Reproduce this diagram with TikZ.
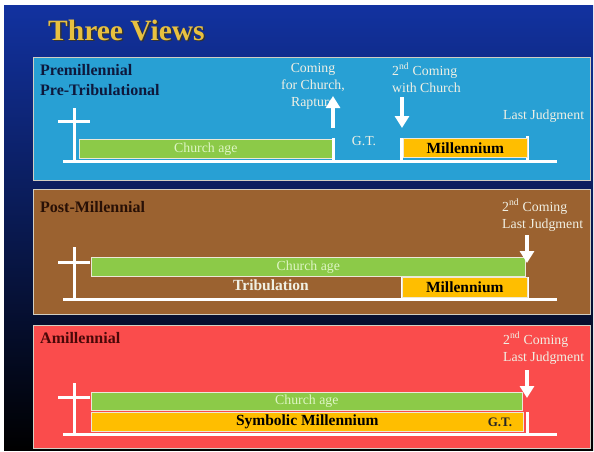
\documentclass[tikz,border=0pt]{standalone}
\usepackage{fontspec}
\setmainfont{Liberation Serif}
\usetikzlibrary{arrows.meta}
\definecolor{bgtop}{RGB}{18,50,160}
\definecolor{bgmid}{RGB}{6,12,40}
\definecolor{preblue}{RGB}{40,160,212}
\definecolor{postbrown}{RGB}{155,98,48}
\definecolor{amired}{RGB}{250,76,76}
\definecolor{agegreen}{RGB}{140,202,72}
\definecolor{agetext}{RGB}{222,245,196}
\definecolor{milorange}{RGB}{255,190,0}
\definecolor{titlegold}{RGB}{232,192,64}
\definecolor{edge}{RGB}{236,232,216}
\definecolor{notetext}{RGB}{240,240,228}
\definecolor{navytext}{RGB}{14,24,60}
\definecolor{browntext}{RGB}{40,16,6}
\definecolor{redtext}{RGB}{74,8,8}
\tikzstyle{panel}=[draw=edge!75!gray,line width=1pt]
\tikzstyle{viewname}=[anchor=base west,inner sep=0pt,font=\fontsize{16}{18}\selectfont\bfseries]
\tikzstyle{note}=[text=notetext,inner sep=0pt,font=\fontsize{13.8}{17}\selectfont]
\tikzstyle{bar}=[draw=edge,line width=.6pt,anchor=north west,inner sep=0pt,minimum height=19pt]
\tikzstyle{agebar}=[bar,fill=agegreen,text=agetext,font=\fontsize{13.8}{15}\selectfont]
\tikzstyle{milbar}=[bar,fill=milorange,text=black,font=\fontsize{15.5}{17}\selectfont\bfseries]
\tikzstyle{tline}=[white,line width=3pt]
\tikzstyle{arr}=[white,line width=3.5pt,-{Triangle[length=12pt,width=14pt]}]

\begin{document}
\begin{tikzpicture}[x=1pt,y=-1pt]
	\useasboundingbox (0,0) rectangle (594,451);
	\fill[white] (0,0) rectangle (594,451);
	\shade[top color=bgtop,middle color=bgmid,bottom color=black] (4,5) rectangle (593,450);
	\node[anchor=base west,inner sep=0pt,text=black!80,font=\fontsize{29.5}{32}\selectfont\bfseries] (shadow) at (49.5,41.5) {Three Views};
	\node[anchor=base west,inner sep=0pt,text=titlegold,font=\fontsize{29.5}{32}\selectfont\bfseries] (title) at (48,40) {Three Views};
	% premillennial
	\filldraw[panel,fill=preblue] (33,57) rectangle (590,180);
	\node[viewname,text=navytext] (pre) at (40,75) {Premillennial};
	\node[viewname,text=navytext] (pretrib) at (40,95) {Pre-Tribulational};
	\draw[tline] (74,108) -- (74,161) (58,121) -- (90,121);
	\draw[tline] (63,161) -- (557,161);
	\node[agebar,minimum width=253pt] (age1) at (79,139) {Church age};
	\draw[tline] (333,138) -- (333,161) (401,138) -- (401,161) (527,136) -- (527,161);
	\node[milbar,minimum width=124pt] (mil1) at (403,138) {Millennium};
	\node[note] (gt1) at (364,141) {G.T.};
	\node[note,align=center,anchor=north] (rapture) at (313,63) {Coming\\for Church,\\Rapture};
	\node[note,align=left,anchor=north west] (second1) at (392,63) {2\textsuperscript{nd} Coming\\with Church};
	\node[note,anchor=base west] (judge1) at (503,119) {Last Judgment};
	\coordinate (upfrom) at (333,128);
	\coordinate (upto) at (333,96);
	\coordinate (downfrom) at (402,97);
	\coordinate (downto) at (402,128);
	\draw[arr] (upfrom) -- (upto);
	\draw[arr] (downfrom) -- (downto);
	% post-millennial
	\filldraw[panel,fill=postbrown] (33,189) rectangle (590,314);
	\node[viewname,text=browntext] (post) at (40,212) {Post-Millennial};
	\draw[tline] (74,247) -- (74,300) (58,262) -- (90,262);
	\draw[tline] (63,299) -- (557,299);
	\draw[tline] (402,277) -- (402,299) (527,277) -- (527,299);
	\node[agebar,minimum width=434pt] (age2) at (91,257) {Church age};
	\node[milbar,minimum width=125pt,minimum height=20pt] (mil2) at (402,277) {Millennium};
	\node[note,font=\fontsize{15.5}{17}\selectfont\bfseries] (trib) at (271,285) {Tribulation};
	\node[note,align=left,anchor=north west] (second2) at (502,199) {2\textsuperscript{nd} Coming\\Last Judgment};
	\coordinate (postfrom) at (527,235);
	\coordinate (postto) at (527,263);
	\draw[arr] (postfrom) -- (postto);
	% amillennial
	\filldraw[panel,fill=amired] (33,325) rectangle (590,448);
	\node[viewname,text=redtext] (amil) at (40,343) {Amillennial};
	\draw[tline] (74,383) -- (74,435) (58,397) -- (90,397);
	\draw[tline] (63,434) -- (557,434);
	\draw[tline] (527,412) -- (527,434);
	\node[agebar,minimum width=431pt,minimum height=18pt] (age3) at (91,392) {Church age};
	\node[milbar,minimum width=432pt] (mil3) at (91,412) {Symbolic Millennium};
	\node[inner sep=0pt,font=\fontsize{13}{15}\selectfont\bfseries,text=black!85] (gt3) at (500,422) {G.T.};
	\node[note,align=left,anchor=north west] (second3) at (503,332) {2\textsuperscript{nd} Coming\\Last Judgment};
	\coordinate (amilfrom) at (527,370);
	\coordinate (amilto) at (527,398);
	\draw[arr] (amilfrom) -- (amilto);
\end{tikzpicture}
\end{document}
